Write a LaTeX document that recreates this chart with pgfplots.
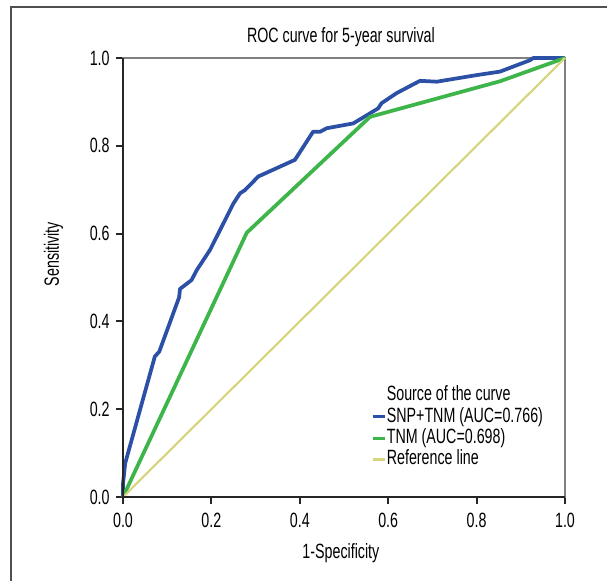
\documentclass[border=0pt]{standalone}
\usepackage{fontspec}
\setmainfont{Liberation Sans}[FakeStretch=0.69]
\usepackage{pgfplots}
\pgfplotsset{compat=1.18}

\definecolor{rocblue}{RGB}{44,80,165}
\definecolor{rocgreen}{RGB}{61,181,74}
\definecolor{rocyellow}{RGB}{214,213,126}
\definecolor{framegray}{RGB}{80,80,80}

\newcommand{\lab}{\fontsize{15.5}{18}\selectfont}

\begin{document}
\begin{tikzpicture}
% page is 607 x 581 px at 0.75pt per px
\useasboundingbox (0,0) rectangle (455.25pt,435.75pt);
\draw[framegray, line width=1.4pt] (8.25pt,-2pt) -- (8.25pt,430.5pt) -- (460pt,430.5pt);

\begin{axis}[
    at={(92.25pt,63pt)}, anchor=south west,
    scale only axis,
    width=331.5pt, height=329.25pt,
    xmin=0, xmax=1, ymin=0, ymax=1,
    xtick={0,0.2,0.4,0.6,0.8,1.0},
    ytick={0,0.2,0.4,0.6,0.8,1.0},
    xtick pos=bottom, ytick pos=left,
    tick align=outside,
    major tick length=5pt,
    tick style={black!85, line width=1.5pt},
    axis line style={gray, line width=1.8pt},
    ticklabel style={font=\lab},
    xticklabel style={yshift=-3.5pt},
    yticklabel style={xshift=-1.5pt},
    /pgf/number format/fixed,
    /pgf/number format/fixed zerofill,
    /pgf/number format/precision=1,
    /pgf/number format/assume math mode=true,
    title={ROC curve for 5-year survival},
    title style={font=\lab, at={(axis description cs:0.493,1.017)}, anchor=base},
    xlabel={1-Specificity},
    xlabel style={font=\lab, at={(axis description cs:0.493,-0.139)}, anchor=base},
    ylabel={Sensitivity},
    ylabel style={font=\lab, at={(axis description cs:-0.145,0.553)}, anchor=base, rotate=0},
    clip=false,
    legend cell align=left,
    legend image code/.code={\draw[#1, line width=2.2pt] (0pt,0pt) -- (9pt,0pt);},
    legend style={draw=none, fill=none, at={(0.552,0.262)}, anchor=north west,
        nodes={font=\lab, text height=11.5pt, text depth=3.5pt, inner sep=0.5pt}},
]

\addlegendimage{empty legend}
\addlegendentry{Source of the curve}

\addplot[rocblue, line width=2.8pt, line join=round] coordinates {
    (0,0) (0,0.03) (0.005,0.077) (0.072,0.32) (0.082,0.331)
    (0.127,0.455) (0.129,0.474) (0.155,0.494) (0.167,0.517)
    (0.197,0.563) (0.25,0.669) (0.265,0.692) (0.276,0.699)
    (0.306,0.73) (0.389,0.768) (0.43,0.832) (0.446,0.832)
    (0.461,0.84) (0.521,0.851) (0.577,0.885) (0.585,0.897)
    (0.619,0.92) (0.672,0.948) (0.71,0.946) (0.80,0.961)
    (0.853,0.969) (0.921,0.995) (0.928,1.0) (1,1)
};
\addlegendentry{SNP+TNM (AUC=0.766)}

\addplot[rocgreen, line width=2.8pt, line join=round] coordinates {
    (0,0) (0.28,0.602) (0.559,0.866) (0.853,0.947) (1,1)
};
\addlegendentry{TNM (AUC=0.698)}

\addplot[rocyellow, line width=1.6pt] coordinates {
    (0,0) (1,1)
};
\addlegendentry{Reference line}

\draw[black!85, line width=1.8pt] (rel axis cs:0,1) -- (rel axis cs:0,0) -- (rel axis cs:1,0);
\end{axis}
\end{tikzpicture}
\end{document}
